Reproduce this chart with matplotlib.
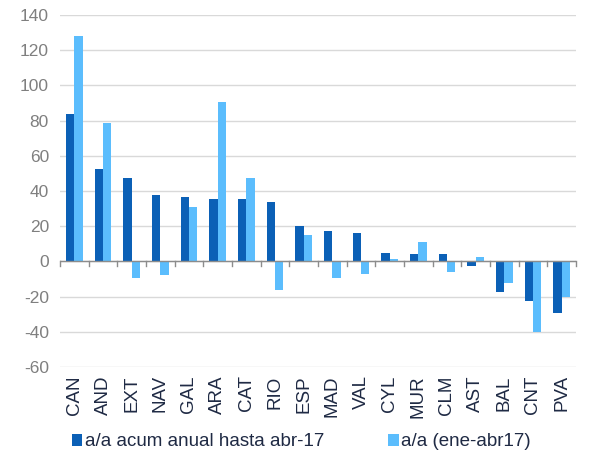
import matplotlib.pyplot as plt
import numpy as np

plt.rcParams['font.family'] = ['Liberation Sans', 'DejaVu Sans']
plt.rcParams['axes.unicode_minus'] = False

regions = ['CAN', 'AND', 'EXT', 'NAV', 'GAL', 'ARA', 'CAT', 'RIO', 'ESP',
           'MAD', 'VAL', 'CYL', 'MUR', 'CLM', 'AST', 'BAL', 'CNT', 'PVA']
acum_anual = [84, 52.5, 47.5, 38, 36.5, 35.5, 35.5, 34, 20,
              17, 16, 5, 4, 4, -2.5, -17.5, -22.5, -29.5]
ene_abr = [128, 78.5, -9.5, -7.5, 31, 90.5, 47.5, -16.5, 15,
           -9.5, -7, 1.5, 11, -6, 2.5, -12.5, -40, -20]
labels = ['a/a acum anual hasta abr-17', 'a/a (ene-abr17)']

dark = '#0B60B6'
light = '#5BBDFD'

fig = plt.figure(figsize=(5.9, 4.55), dpi=100)
ax = fig.add_axes([60 / 590, 1 - 367 / 455, 516 / 590, 352 / 455])

x = np.arange(len(regions))
w = 0.29
ax.bar(x - w / 2, acum_anual, w, color=dark, label=labels[0], zorder=3)
ax.bar(x + w / 2, ene_abr, w, color=light, label=labels[1], zorder=3)

ax.set_xlim(-0.5, len(regions) - 0.5)
ax.set_ylim(-60, 140)
ax.set_yticks(range(-60, 141, 20))
ax.grid(axis='y', color='#D9D9D9', linewidth=1, zorder=0)
ax.axhline(0, color='#8C8C8C', linewidth=1, zorder=4)

# category separators as small ticks below the zero line
for b in np.arange(-0.5, len(regions), 1):
    ax.plot([b, b], [0, -2.5], color='#8C8C8C', linewidth=1, zorder=4,
            clip_on=False)

for s in ax.spines.values():
    s.set_visible(False)
ax.tick_params(axis='y', length=0, labelsize=12.5, labelcolor='#7F7F7F', pad=8)
ax.tick_params(axis='x', length=0, labelsize=13.5, labelcolor='#1F2A44', pad=6)
ax.set_xticks(x)
ax.set_xticklabels(regions, rotation=90)

fig.legend(loc='center left', bbox_to_anchor=(72 / 590, 13 / 455), ncol=2,
           frameon=False, fontsize=13.5, handlelength=0.55, handleheight=0.55,
           handletextpad=0.15, columnspacing=3.4, labelcolor='#1F2A44',
           borderpad=0, borderaxespad=0)

fig.savefig('out.png', dpi=100)
